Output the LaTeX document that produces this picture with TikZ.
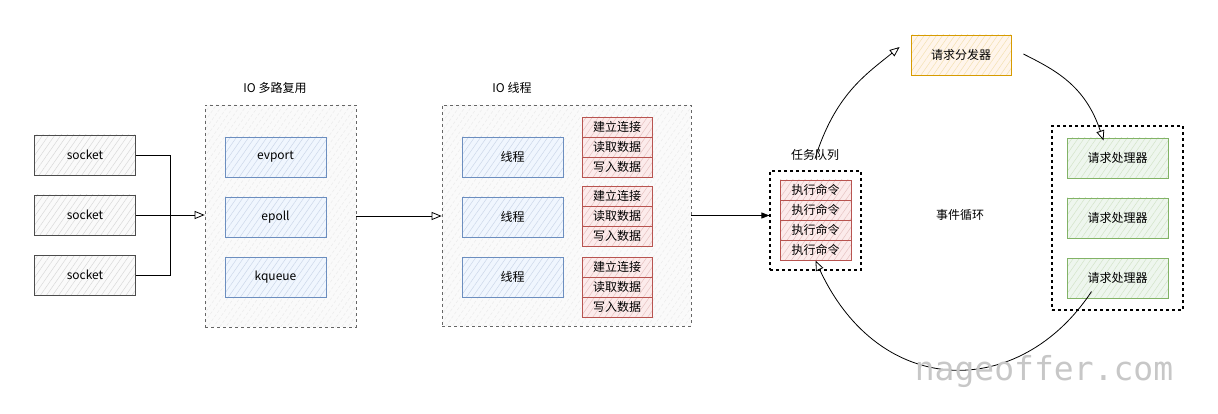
\documentclass[tikz,border=0pt]{standalone}
\usepackage{fontspec}
\setmainfont{Noto Sans CJK SC}
\newfontfamily\markfont{DejaVu Sans Mono}
\usetikzlibrary{arrows.meta,patterns.meta}

\definecolor{blueln}{HTML}{6C8EBF}
\definecolor{bluefl}{HTML}{DAE8FC}
\definecolor{redln}{HTML}{B85450}
\definecolor{redfl}{HTML}{F8CECC}
\definecolor{greenln}{HTML}{82B366}
\definecolor{greenfl}{HTML}{D5E8D4}
\definecolor{orangeln}{HTML}{D79B00}
\definecolor{orangefl}{HTML}{FFE6CC}

\tikzset{
  hatched/.style 2 args={preaction={fill=#1}, pattern={Lines[angle=55,distance=5pt,line width=0.5pt]}, pattern color=#2},
  box/.style={draw, minimum width=101pt, minimum height=40pt, inner sep=0pt, line width=0.8pt, font=\fontsize{12}{14}\selectfont},
  sockbox/.style={box, draw=black!70, hatched={black!2}{black!15}},
  bluebox/.style={box, draw=blueln, hatched={bluefl!40}{blueln!35}},
  greenbox/.style={box, draw=greenln, hatched={greenfl!40}{greenln!35}},
  orangebox/.style={box, draw=orangeln, hatched={orangefl!40}{orangeln!30}},
  redbox/.style={box, draw=redln, hatched={redfl!40}{redln!35}, minimum width=70pt, minimum height=20pt},
  iogroup/.style={draw=black!60, dashed, line width=0.7pt, hatched={black!2}{black!8}, inner sep=0pt},
  blackgroup/.style={draw, dashed, line width=1.1pt, inner sep=0pt},
  title/.style={font=\fontsize{12}{14}\selectfont},
  open/.style={-{Triangle[open,length=10pt,width=8pt]}},
}

\begin{document}
\begin{tikzpicture}[x=1pt,y=-1pt,line width=0.8pt]
\useasboundingbox (0,0) rectangle (1218,414);

% sockets
\foreach \i/\y in {1/155,2/215,3/275}
  \node[sockbox] (s\i) at (85,\y) {socket};

% IO multiplexing
\node[iogroup, minimum width=151pt, minimum height=222pt] (mux) at (280.5,216) {};
\node[title] (muxt) at (275,88) {IO 多路复用};
\foreach \n/\y in {evport/157,epoll/217,kqueue/277}
  \node[bluebox] (\n) at (275.5,\y) {\n};

% IO threads
\node[iogroup, minimum width=249pt, minimum height=221pt] (iot) at (566.5,215.5) {};
\node[title] (iott) at (512,88) {IO 线程};
\foreach \i/\ty/\ry in {1/157/147,2/217/216,3/277/287}{
  \node[bluebox] (t\i) at (512.5,\ty) {线程};
  \node[redbox] (c\i) at (617,\ry-20) {建立连接};
  \node[redbox] (r\i) at (617,\ry) {读取数据};
  \node[redbox] (w\i) at (617,\ry+20) {写入数据};
}

% task queue
\node[blackgroup, minimum width=91pt, minimum height=99pt] (tq) at (815.5,220.5) {};
\node[title] (tqt) at (815,155) {任务队列};
\foreach \i/\y in {1/190,2/210,3/230,4/250}
  \node[redbox, minimum width=71pt] (q\i) at (815.5,\y) {执行命令};

% dispatcher and handlers
\node[orangebox, minimum width=100pt] (disp) at (961,55) {请求分发器};
\node[blackgroup, minimum width=131pt, minimum height=184pt] (hg) at (1117.5,218) {};
\foreach \i/\y in {1/158,2/218,3/278}
  \node[greenbox] (h\i) at (1117.5,\y) {请求处理器};
\node[title] (loop) at (960,215) {事件循环};

% connectors
\coordinate (join) at (170,215);
\draw (s1.east) -| (join);
\draw (s3.east) -| (join);
\draw[open] (s2.east) -- (s2.east -| mux.west);
\draw[open] (mux.east) -- (mux.east -| iot.west);
\draw[-{Triangle[length=8pt,width=6pt]}] (iot.east) -- (iot.east -| tq.west);
\draw[open] ([yshift=-13pt]tqt.north) .. controls (835,95) and (865,75) .. ([xshift=-11pt,yshift=8pt]disp.west);
\draw[open] ([xshift=12pt,yshift=1pt]disp.east) .. controls (1055,70) and (1085,85) .. ([xshift=-14pt,yshift=-15pt]hg.north);
\draw[open] ([xshift=-26pt,yshift=19pt]hg.south) .. controls (1020,400) and (880,400) .. ([yshift=10pt]tq.south);

% watermark
\node[font=\markfont\fontsize{33}{33}\selectfont, text=black!22, anchor=base] (mark) at (1044,380) {nageoffer.com};
\end{tikzpicture}
\end{document}
